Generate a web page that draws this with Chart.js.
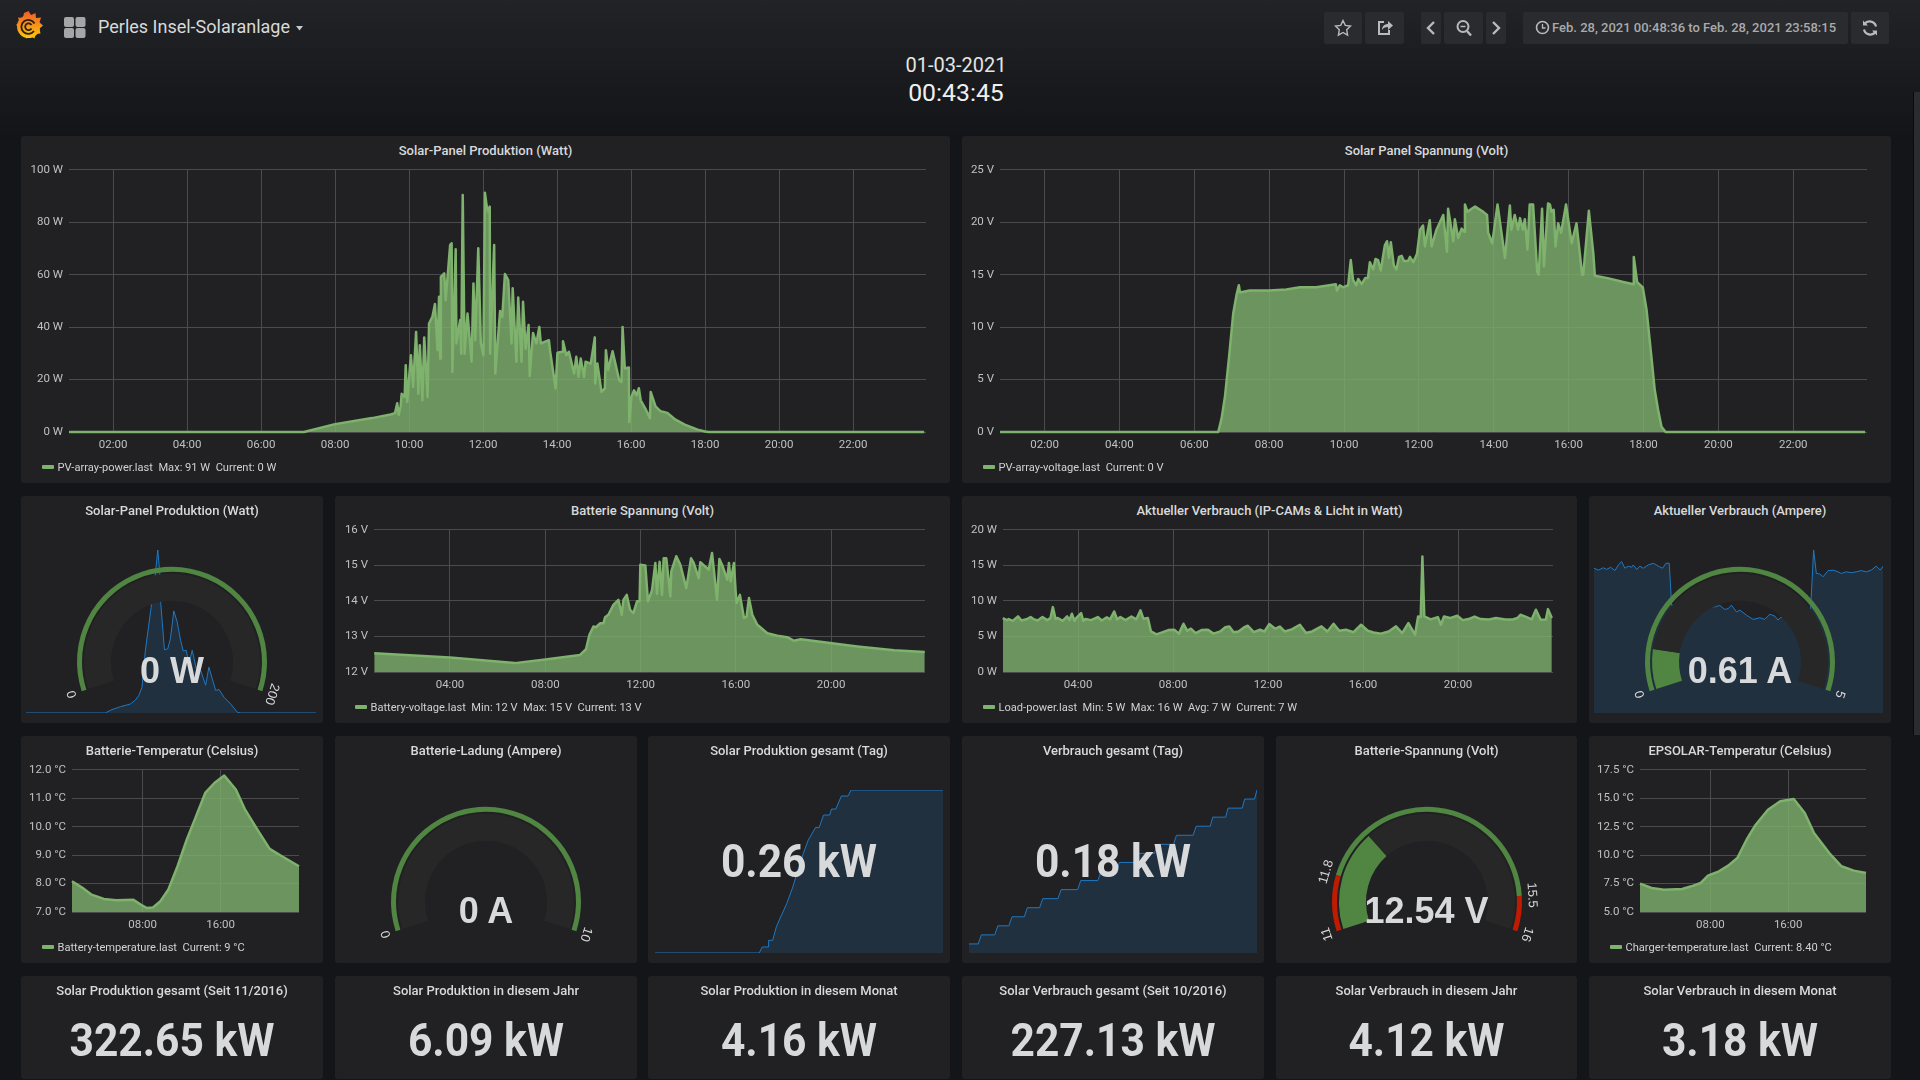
<!DOCTYPE html>
<html><head><meta charset="utf-8">
<script src="https://cdn.jsdelivr.net/npm/chart.js@4"></script>
<style>
html,body{margin:0;padding:0;width:1920px;height:1080px;overflow:hidden;background:#141518;font-family:Roboto,sans-serif;color:#d8d9da}
#bg{position:absolute;left:0;top:0;width:1920px;height:140px;background:linear-gradient(#222326,#131417)}
.panel{position:absolute;background:#212124;border-radius:3px}
.title{position:absolute;text-align:center;font-size:13px;font-weight:500;line-height:16px;color:#d8d9da;white-space:nowrap}
canvas{position:absolute;display:block}
.legend{position:absolute;font-size:11.1px;line-height:14px;color:#d0d1d2;white-space:pre}
.swatch{position:absolute;width:12px;height:4px;background:#7eb26d;border-radius:1px}
.big{position:absolute;text-align:center;font-weight:700;font-size:46px;line-height:50px;color:#d8d9da;white-space:nowrap;transform:scaleX(.925)}
.gv{position:absolute;text-align:center;font-family:"Liberation Sans",sans-serif;font-weight:700;font-size:36px;line-height:40px;color:#d8d9da;white-space:nowrap}
.btn{position:absolute;top:12px;height:32px;background:#2a2b2e;border-radius:2px;display:flex;align-items:center;justify-content:center}
.abs{position:absolute;white-space:nowrap}
</style></head><body>
<div id="bg"></div>
<svg class="abs" style="left:13px;top:10px" width="32" height="32" viewBox="0 0 32 32">
 <defs><linearGradient id="g" x1="0" y1="0" x2="0" y2="1"><stop offset="0" stop-color="#f05a28"/><stop offset="1" stop-color="#fbca0a"/></linearGradient></defs>
 <circle cx="15.5" cy="16.500" r="11.500" fill="url(#g)"/>
 <path d="M15.500 1l2.500 4 4.500-2 .5 5 5-.5-1.500 5 3.500 3-3.500 3 1 5-5 .5-1 4.500-4-2.500-4 2.500-1.500-4.500-5-.5 1.500-5L3 15l3.500-3-1.500-4.500 5 .5 1-5z" fill="url(#g)"/>
 <path d="M21.500 13.500a7 7 0 1 0-.5 7.500" fill="none" stroke="#2a1d12" stroke-width="1.800"/>
 <path d="M18.500 15a3.400 3.400 0 1 0 0 3.500" fill="none" stroke="#2a1d12" stroke-width="1.800"/>
</svg>
<svg class="abs" style="left:64px;top:17px" width="22" height="21" viewBox="0 0 22 21" fill="#a5a6a8">
 <rect x="0" y="0" width="10" height="10" rx="2"/><rect x="11.5" y="0" width="10" height="10" rx="2"/><rect x="0" y="11" width="10" height="10" rx="2"/><rect x="11.5" y="11" width="10" height="10" rx="2"/>
</svg>
<div class="abs" style="left:98px;top:16px;font-size:18px;line-height:22px;color:#d8d9da">Perles Insel-Solaranlage</div>
<svg class="abs" style="left:296px;top:26px" width="8" height="5"><path d="M0 0h7L3.500 4.500z" fill="#c8c9ca"/></svg>

<div class="btn" style="left:1324px;width:38px"><svg width="18" height="18" viewBox="0 0 18 18"><path d="M9 1.500l2.300 4.900 5.200.7-3.800 3.700.9 5.300L9 13.500l-4.600 2.600.9-5.300L1.500 7.100l5.200-.7z" fill="none" stroke="#b9babb" stroke-width="1.400"/></svg></div>
<div class="btn" style="left:1365px;width:39px"><svg width="18" height="18" viewBox="0 0 18 18"><path d="M8 3H3v12h10v-4" fill="none" stroke="#b9babb" stroke-width="2"/><path d="M6 11c0-4 3-6 6-6V2l5 4.500-5 4.500V8c-3 0-5 1-6 3z" fill="#b9babb"/></svg></div>
<div class="btn" style="left:1421px;width:20px"><svg width="12" height="16" viewBox="0 0 12 16"><path d="M9 2L3 8l6 6" fill="none" stroke="#b9babb" stroke-width="2.400"/></svg></div>
<div class="btn" style="left:1444px;width:39px"><svg width="18" height="18" viewBox="0 0 18 18"><circle cx="8" cy="7.500" r="5.500" fill="none" stroke="#b9babb" stroke-width="2"/><path d="M12 12l4 4.500" stroke="#b9babb" stroke-width="2.400"/><path d="M5.500 7.500h5" stroke="#b9babb" stroke-width="1.500"/></svg></div>
<div class="btn" style="left:1486px;width:20px"><svg width="12" height="16" viewBox="0 0 12 16"><path d="M3 2l6 6-6 6" fill="none" stroke="#b9babb" stroke-width="2.400"/></svg></div>
<div class="btn" style="left:1523px;width:325px"></div>
<svg class="abs" style="left:1535px;top:20px" width="15" height="15" viewBox="0 0 15 15"><circle cx="7.500" cy="7.500" r="6" fill="none" stroke="#b9babb" stroke-width="1.600"/><path d="M7.500 4v4h3" fill="none" stroke="#b9babb" stroke-width="1.300"/></svg>
<div class="abs" style="left:1552px;top:20px;font-size:13px;font-weight:500;line-height:16px;color:#a9aaab">Feb. 28, 2021 00:48:36 to Feb. 28, 2021 23:58:15</div>
<div class="btn" style="left:1851px;width:38px"><svg width="18" height="18" viewBox="0 0 18 18"><path d="M15 7.500A6.500 6.500 0 0 0 3.500 5" fill="none" stroke="#b9babb" stroke-width="2.200"/><path d="M3 10.500A6.500 6.500 0 0 0 14.500 13" fill="none" stroke="#b9babb" stroke-width="2.200"/><path d="M2 1.500v5h5zM16 16.500v-5h-5z" fill="#b9babb"/></svg></div>

<div class="abs" style="left:756px;width:400px;text-align:center;top:53px;font-size:20px;line-height:24px;color:#e4e5e6">01-03-2021</div>
<div class="abs" style="left:756px;width:400px;text-align:center;top:78px;font-size:24.8px;line-height:30px;color:#f0f0f0">00:43:45</div>
<div class="abs" style="left:1913px;top:92px;width:6px;height:643px;background:#2a2c30;border-left:1px solid #08090a"></div>
<div id="root"></div>
<script>
// ---- axis labels ----
const hourTicksWide = [2,4,6,8,10,12,14,16,18,20,22];
const hourTicksMid = [4,8,12,16,20];
const hourTicksNarrow = [8,16];
const wattTicksPanel = [0,20,40,60,80,100];
const voltTicksPanel = [0,5,10,15,20,25];
const voltTicksBattery = [12,13,14,15,16];
const wattTicksLoad = [0,5,10,15,20];
const tempTicksBattery = [7,8,9,10,11,12];
const tempTicksCharger = [5,7.5,10,12.5,15,17.5];

// ---- series: [hour of day, value] ----
const pvPower = [[0.81,0],[7.16,0],[8,3],[9,5.3],[9.5,6.7],[9.62,7.2],[9.68,11],[9.72,6.5],[9.77,9.6],[9.8,14.6],[9.88,13.4],[9.91,25.5],[9.95,11.5],[10.05,29.3],[10.11,17.2],[10.19,38.2],[10.25,14.6],[10.29,33.1],[10.36,12.1],[10.41,36.1],[10.5,13.4],[10.54,41.4],[10.63,43.9],[10.7,48.8],[10.77,31.2],[10.81,51.6],[10.84,28],[10.86,59.2],[10.95,60.5],[10.99,50.3],[11.11,71.3],[11.15,72],[11.17,22.9],[11.26,69.7],[11.28,33.8],[11.38,42.7],[11.41,29.9],[11.45,90.4],[11.5,29.9],[11.58,45.2],[11.69,26.8],[11.74,56.7],[11.79,35],[11.87,70.1],[11.94,33.8],[12.01,29.3],[12.05,91.3],[12.1,86],[12.14,84.1],[12.18,86],[12.19,29.9],[12.3,71.3],[12.33,22.3],[12.46,46.2],[12.52,43.9],[12.59,60.3],[12.68,58],[12.77,33.8],[12.8,54.8],[12.9,26.8],[12.95,51.3],[13.04,26.8],[13.08,49.7],[13.15,31.8],[13.23,40.8],[13.26,21.3],[13.35,37.8],[13.44,33.8],[13.52,40.1],[13.56,33.8],[13.78,35],[13.81,31],[13.96,16.6],[14.01,30.2],[14.14,30.6],[14.16,34.6],[14.25,29.3],[14.32,30.6],[14.46,22.3],[14.52,28.7],[14.58,21],[14.64,28],[14.73,21],[14.77,26.8],[14.91,26.1],[15.02,36.1],[15.03,18.5],[15.09,26.1],[15.2,15.3],[15.29,16.6],[15.32,31.2],[15.38,23.6],[15.5,30.8],[15.68,19.7],[15.74,19.1],[15.77,40.1],[15.83,24.2],[15.94,24.6],[15.95,3.8],[16.01,13.4],[16.08,15.9],[16.15,14],[16.21,16.7],[16.26,12.1],[16.4,8.5],[16.51,5.3],[16.53,15.3],[16.66,9.8],[16.8,7.9],[16.98,7.3],[17.2,4.7],[17.45,2.8],[17.8,0.9],[18,0.2],[18.1,0],[23.92,0]];

const pvVoltage = [[0.81,0],[6.64,0],[6.73,1.3],[6.82,3.4],[6.93,7.2],[7.04,11.3],[7.13,13.1],[7.19,14],[7.22,13.3],[7.48,13.5],[8,13.5],[8.46,13.6],[8.82,13.8],[9.26,13.8],[9.78,14.1],[9.81,13.5],[9.89,14],[9.97,13.8],[10.11,14],[10.18,16.4],[10.24,14.5],[10.33,14],[10.38,14.6],[10.47,14.1],[10.57,14.7],[10.64,14.7],[10.69,16.2],[10.78,15.5],[10.84,16.5],[10.91,16.4],[10.98,15.4],[11.09,17.8],[11.15,18.2],[11.2,16.6],[11.25,18.1],[11.33,15.9],[11.4,15.5],[11.47,16.7],[11.54,16.8],[11.6,16.3],[11.71,16.3],[11.76,16.7],[11.85,16.2],[11.95,17],[12.03,19.3],[12.11,19.7],[12.16,17.7],[12.29,20.2],[12.34,17.7],[12.47,19.3],[12.65,20.7],[12.75,17.2],[12.78,21.3],[12.92,18.2],[12.96,20.3],[13.05,18.5],[13.14,19.4],[13.21,19.1],[13.23,21.7],[13.3,21],[13.41,21.3],[13.5,21.5],[13.72,21],[13.82,20.7],[13.85,19],[13.96,18],[14.1,21.7],[14.3,16.6],[14.43,21.6],[14.47,19.3],[14.56,20.7],[14.65,19.3],[14.7,20.4],[14.78,19.3],[14.83,20.3],[14.9,17.4],[14.96,21.7],[15.05,21.7],[15.16,15.3],[15.2,15],[15.29,21.3],[15.34,15.8],[15.45,21.8],[15.5,21.7],[15.54,21],[15.6,21.2],[15.65,17.7],[15.72,19.9],[15.8,19],[15.93,21.7],[16.08,18],[16.21,19.9],[16.36,15],[16.39,15],[16.54,21.1],[16.66,17],[16.7,14.9],[17.01,14.7],[17.46,14.3],[17.73,14.1],[17.74,16.7],[17.83,14.3],[17.98,13.8],[18.08,11.7],[18.21,7.2],[18.3,4],[18.39,2.1],[18.48,0.5],[18.59,0],[23.92,0]];

const batteryVoltage = [[0.82,12.53],[4,12.41],[6.72,12.25],[8,12.35],[9.46,12.48],[9.71,12.64],[9.85,13.04],[10.02,13.28],[10.13,13.26],[10.3,13.37],[10.44,13.37],[10.51,13.54],[10.65,13.61],[10.86,13.89],[11.07,14.03],[11.21,13.61],[11.28,14.03],[11.42,14.17],[11.56,13.75],[11.7,13.66],[11.85,13.99],[11.96,13.99],[11.99,15.02],[12.2,15],[12.31,13.99],[12.48,14.3],[12.62,15.07],[12.69,14.2],[12.8,15.1],[12.9,14.17],[12.97,15.2],[13.08,15.2],[13.25,14.13],[13.29,14.83],[13.5,15.26],[13.67,15.02],[13.92,14.36],[14.12,15.2],[14.23,15.07],[14.44,14.64],[14.51,15.09],[14.86,14.88],[15,15.35],[15.21,14.03],[15.31,15.18],[15.42,15.02],[15.64,14.6],[15.71,15.07],[15.78,14.55],[15.92,15.07],[15.99,14.27],[16.03,13.94],[16.17,14.17],[16.34,13.52],[16.45,13.56],[16.55,14.08],[16.69,13.61],[16.9,13.33],[17.32,13.09],[17.74,13.02],[18.16,12.98],[18.44,12.88],[18.72,12.92],[21.1,12.72],[22.64,12.61],[23.93,12.56]];

const loadPower = [[0.83,7.59],[1,7.3],[1.08,7.45],[1.25,7.2],[1.47,7.82],[1.62,7.25],[1.86,7.45],[2,7.75],[2.12,7.45],[2.3,7.25],[2.5,7.73],[2.7,7.3],[2.84,7.59],[2.94,9.13],[3.05,7.5],[3.15,7.59],[3.35,7.2],[3.54,7.82],[3.64,7.3],[3.74,8.2],[3.85,7.2],[3.92,7.59],[4.13,8.29],[4.22,7.2],[4.31,7.45],[4.55,7.3],[4.83,7.73],[5,7.25],[5.21,7.68],[5.35,7.4],[5.52,8.52],[5.65,7.4],[5.78,7.73],[6,7.3],[6.25,7.82],[6.45,7.4],[6.63,8.67],[6.75,7.5],[6.94,7.59],[7.07,5.71],[7.3,5.3],[7.54,5.57],[7.8,5.9],[8.05,5.95],[8.25,5.4],[8.44,6.79],[8.6,5.8],[8.75,6.1],[8.95,5.48],[9.2,5.9],[9.47,5.95],[9.7,5.4],[9.99,5.71],[10.2,6.3],[10.37,6.42],[10.55,5.6],[10.76,5.71],[11,6.3],[11.15,6.51],[11.4,5.6],[11.66,5.95],[11.85,5.7],[12.05,6.74],[12.3,6.1],[12.5,6.4],[12.7,5.71],[13,6],[13.34,6.65],[13.6,5.5],[13.86,5.71],[14.25,6.42],[14.5,5.7],[14.76,6.79],[15,5.8],[15.28,5.95],[15.6,5.6],[15.92,6.65],[16.2,5.8],[16.44,5.57],[16.75,5.4],[17.08,5.71],[17.39,6.42],[17.65,5.48],[17.91,6.89],[18.19,5.25],[18.32,7.82],[18.43,7.73],[18.5,16.25],[18.58,7.82],[18.85,7.4],[19.15,7.73],[19.28,6.65],[19.41,7.82],[19.66,7.59],[19.97,7.92],[20.2,7.3],[20.44,7.45],[20.7,7.8],[20.95,7.45],[21.3,7.4],[21.6,7.6],[21.99,7.4],[22.3,7.4],[22.5,7.59],[22.63,8.06],[22.89,7.73],[23.1,7.4],[23.28,8.76],[23.48,7.35],[23.7,7.4],[23.79,8.85],[23.95,7.59]];

const batteryTemp = [[0.76,8.08],[1.83,7.85],[2.77,7.61],[4.03,7.46],[5.29,7.41],[7.06,7.43],[7.81,7.26],[8.44,7.14],[9.07,7.16],[9.83,7.38],[10.65,7.79],[11.59,8.61],[12.54,9.55],[13.35,10.25],[14.43,11.19],[15.37,11.54],[16.38,11.8],[17.57,11.31],[18.52,10.6],[19.78,9.9],[21.04,9.22],[22.3,8.96],[24.05,8.61]];

const chargerTemp = [[0.76,7.49],[1.95,7.11],[3.21,6.96],[5.1,7.02],[6.05,7.26],[6.99,7.55],[7.75,8.2],[8.88,8.58],[9.83,9.08],[10.77,9.75],[11.72,11.36],[12.66,12.68],[13.92,14],[15.18,14.74],[16.57,14.94],[17.7,13.71],[18.65,11.95],[20.22,10.19],[21.48,9.02],[22.74,8.64],[24,8.43]];

const sparkPanelWatt = [[0.81,0],[7.14,0],[7.67,1.9],[8.34,3.5],[9.14,5],[9.54,7.2],[9.81,9.7],[10.07,14.4],[10.34,35],[10.8,59],[11.14,78],[11.33,91],[11.49,78],[11.57,61],[11.86,35.3],[12.13,35.9],[12.34,41.5],[12.61,57],[12.88,50.8],[13.15,40.6],[13.36,34.6],[13.6,35],[13.81,27.5],[14.08,35],[14.43,23.9],[14.75,23.9],[15.15,15.5],[15.41,25.6],[15.95,12.6],[16.22,13.1],[16.62,8.8],[17.15,5],[17.68,0.4],[17.95,0],[23.96,0]];

const sparkLoadAmpere = [[0.81,0.611],[1.16,0.603],[1.56,0.613],[1.82,0.606],[2.14,0.615],[2.49,0.601],[2.76,0.625],[3.02,0.639],[3.29,0.611],[3.56,0.62],[3.82,0.615],[3.96,0.625],[4.23,0.606],[4.49,0.62],[4.76,0.611],[5.16,0.625],[5.56,0.632],[5.96,0.62],[6.31,0.611],[6.57,0.632],[6.84,0.632],[7.03,0.455],[8.49,0.451],[10.49,0.448],[10.89,0.454],[11.29,0.437],[11.56,0.441],[11.83,0.455],[12.23,0.427],[12.5,0.434],[13.03,0.413],[13.56,0.395],[14.1,0.402],[14.5,0.395],[14.9,0.417],[15.3,0.409],[15.56,0.392],[15.75,0.403],[16.5,0.409],[17.56,0.42],[18.17,0.441],[18.41,0.688],[18.63,0.589],[18.9,0.587],[19.17,0.575],[19.57,0.601],[19.97,0.603],[20.37,0.596],[20.63,0.589],[21.03,0.596],[21.43,0.592],[21.83,0.596],[22.23,0.601],[22.63,0.596],[23.03,0.603],[23.43,0.62],[23.75,0.603],[23.97,0.62]];

const sparkSolarDay = [[0.81,0],[9.19,0],[9.44,0.0096],[9.93,0.0096],[9.95,0.0202],[10.28,0.0202],[10.57,0.0416],[10.92,0.0575],[11.41,0.0789],[11.9,0.1055],[12.3,0.1321],[12.74,0.1588],[13.14,0.1801],[13.73,0.2003],[14.02,0.2003],[14.37,0.22],[14.86,0.22],[15.01,0.2296],[15.36,0.2296],[15.8,0.2504],[16.34,0.2504],[16.59,0.26],[23.98,0.26]];

const sparkLoadDay = [[0.81,0.01],[1.55,0.01],[1.8,0.02],[2.88,0.02],[3.13,0.03],[4.02,0.03],[4.27,0.04],[5.26,0.04],[5.5,0.05],[6.49,0.05],[6.74,0.06],[7.97,0.06],[8.22,0.07],[9.55,0.07],[9.8,0.08],[11.18,0.08],[11.43,0.09],[12.67,0.09],[12.91,0.1],[14.15,0.1],[14.4,0.11],[15.73,0.11],[15.97,0.12],[17.26,0.12],[17.5,0.13],[18.84,0.13],[19.09,0.14],[20.22,0.14],[20.42,0.15],[21.46,0.15],[21.65,0.16],[22.79,0.16],[22.99,0.17],[23.78,0.17],[23.98,0.18]];

// ---- singlestat numbers ----
const statTitles = ["Solar Produktion gesamt (Seit 11/2016)","Solar Produktion in diesem Jahr","Solar Produktion in diesem Monat","Solar Verbrauch gesamt (Seit 10/2016)","Solar Verbrauch in diesem Jahr","Solar Verbrauch in diesem Monat"];
const statValues = ["322.65 kW","6.09 kW","4.16 kW","227.13 kW","4.12 kW","3.18 kW"];

// ---- page helpers ----
const root = document.getElementById('root');
function el(cls, css, text){const d=document.createElement('div');d.className=cls;Object.assign(d.style,css);if(text!==undefined)d.textContent=text;root.appendChild(d);return d;}
function panel(x,y,w,h,title){
  el('panel',{left:x+'px',top:y+'px',width:w+'px',height:h+'px'});
  el('title',{left:x+'px',width:w+'px',top:(y+7)+'px'},title);
}
const COL=[[21,302],[335,302],[648,302],[962,302],[1276,301],[1589,302]];
const hhmm=v=>String(v).padStart(2,'0')+':00';

function addCanvas(x,y,w,h){
  const c=document.createElement('canvas');c.width=w;c.height=h;
  c.style.left=x+'px';c.style.top=y+'px';c.style.width=w+'px';c.style.height=h+'px';
  root.appendChild(c);return c.getContext('2d');
}
const TICK={color:'#bfc0c1',font:{family:'Roboto',size:11.5}};
const GRID={color:'#4b4b4d',lineWidth:1,tickLength:0};

function lineChart(o){
  const padL=70,padR=6,padT=10,padB=30;
  const W=o.r-o.l+padL+padR,H=o.b-o.t+padT+padB;
  const ctx=addCanvas(o.l-padL,o.t-padT,W,H);
  const chart=new Chart(ctx,{type:'line',
    data:{datasets:[{data:o.data.map(p=>({x:p[0],y:p[1]})),borderColor:'#7eb26d',backgroundColor:'rgba(126,178,109,0.8)',borderWidth:2.5,pointRadius:0,tension:0,fill:'start',borderJoinStyle:'round',clip:false}]},
    options:{responsive:false,maintainAspectRatio:false,animation:false,events:[],layout:{padding:{top:padT,right:padR,left:0,bottom:0}},
      plugins:{legend:{display:false},tooltip:{enabled:false},title:{display:false}},
      scales:{
        x:{type:'linear',min:o.xMin,max:o.xMax,afterFit:s=>{s.height=padB},
           afterBuildTicks:s=>{s.ticks=o.xTicks.map(v=>({value:v}))},
           grid:GRID,border:{display:false},
           ticks:{...TICK,autoSkip:false,maxRotation:0,padding:6,callback:v=>hhmm(v)}},
        y:{type:'linear',min:o.yTicks[0],max:o.yTicks[o.yTicks.length-1],afterFit:s=>{s.width=padL},
           afterBuildTicks:s=>{s.ticks=o.yTicks.map(v=>({value:v}))},
           grid:GRID,border:{display:false},
           ticks:{...TICK,padding:6,callback:o.yFmt}}
      }}});
  // line the plot area up with the requested rectangle
  let ca=chart.chartArea;
  const dw=Math.round((o.r-o.l)-(ca.right-ca.left)),dh=Math.round((o.b-o.t)-(ca.bottom-ca.top));
  if(dw||dh)chart.resize(W+dw,H+dh);
  ca=chart.chartArea;
  ctx.canvas.style.left=(o.l-ca.left)+'px';
  ctx.canvas.style.top=(o.t-ca.top)+'px';
  el('swatch',{left:o.lx+'px',top:(o.ly-2)+'px'});
  el('legend',{left:(o.lx+15.5)+'px',top:(o.ly-6)+'px'},o.legend);
}

function sparkline(x0,x1,yTop,yBottom,data,yMax){
  const ctx=addCanvas(x0,yTop,x1-x0,yBottom-yTop);
  new Chart(ctx,{type:'line',
    data:{datasets:[{data:data.map(p=>({x:p[0],y:p[1]})),borderColor:'#1f78c1',backgroundColor:'rgba(31,118,189,0.18)',borderWidth:1,pointRadius:0,tension:0,fill:'start'}]},
    options:{responsive:false,animation:false,events:[],layout:{padding:0},
      plugins:{legend:{display:false},tooltip:{enabled:false}},
      scales:{x:{type:'linear',display:false,min:data[0][0],max:data[data.length-1][0]},
              y:{type:'linear',display:false,min:0,max:yMax}}}});
}

const GAUGE_START=162, GAUGE_SPAN=216, GREEN='#508642', RED='#bf1b00', BAND='#272727';
const gaugeLabels={id:'gaugeLabels',afterDraw(chart,args,opts){
  const a=chart.getDatasetMeta(0).data[0],c=chart.ctx;
  c.save();c.fillStyle='#d8d9da';c.font='13px "Liberation Sans"';c.textAlign='center';c.textBaseline='middle';
  opts.ticks.forEach(v=>{
    const ang=(GAUGE_START+(v-opts.min)/(opts.max-opts.min)*GAUGE_SPAN)*Math.PI/180;
    c.save();c.translate(a.x+105*Math.cos(ang),a.y+105*Math.sin(ang));c.rotate(ang+Math.PI/2);
    c.fillText(String(v),0,0);c.restore();
  });
  c.restore();
}};
function thresholdTicks(min,th){const out=[];let s=min;th.slice(0,-1).forEach(t=>{s=+(s+t[0]).toFixed(2);out.push(s)});return out;}
function gauge(cx,cy,min,max,value,thresholds,unitText){
  const w=300,h=300,R=95;
  // Chart.js shifts a partial doughnut inside its box; keep the ring's centre on (cx,cy)
  const shift=R*(1-Math.sin(GAUGE_START*Math.PI/180))/2;
  const ctx=addCanvas(cx-w/2,cy-shift-h/2,w,h);
  new Chart(ctx,{type:'doughnut',plugins:[gaugeLabels],
    data:{datasets:[
      {data:thresholds.map(t=>t[0]),backgroundColor:thresholds.map(t=>t[1]),borderWidth:0,weight:5},
      {data:[1],backgroundColor:['rgba(0,0,0,0)'],borderWidth:0,weight:2},
      {data:[value-min,max-value],backgroundColor:[GREEN,BAND],borderWidth:0,weight:27}
    ]},
    options:{responsive:false,animation:false,events:[],rotation:GAUGE_START+90-360,circumference:GAUGE_SPAN,radius:R,cutout:'64.2%',
      layout:{padding:0},
      plugins:{legend:{display:false},tooltip:{enabled:false},
        gaugeLabels:{min,max,ticks:[min,...thresholdTicks(min,thresholds),max]}}}});
  el('gv',{left:(cx-150)+'px',width:'300px',top:(cy-11.5)+'px'},unitText);
}

// ---- row 1 ----
panel(21,136,929,347,'Solar-Panel Produktion (Watt)');
panel(962,136,929,347,'Solar Panel Spannung (Volt)');
lineChart({l:69,r:926,t:170,b:432,xMin:0.81,xMax:23.97,xTicks:hourTicksWide,yTicks:wattTicksPanel,yFmt:v=>v+' W',data:pvPower,lx:42,ly:467,legend:'PV-array-power.last  Max: 91 W  Current: 0 W'});
lineChart({l:1000,r:1867,t:170,b:432,xMin:0.81,xMax:23.97,xTicks:hourTicksWide,yTicks:voltTicksPanel,yFmt:v=>v+' V',data:pvVoltage,lx:983,ly:467,legend:'PV-array-voltage.last  Current: 0 V'});

// ---- row 2 ----
panel(21,496,302,227,'Solar-Panel Produktion (Watt)');
panel(335,496,615,227,'Batterie Spannung (Volt)');
panel(962,496,615,227,'Aktueller Verbrauch (IP-CAMs & Licht in Watt)');
panel(1589,496,302,227,'Aktueller Verbrauch (Ampere)');
sparkline(26,316,550,713,sparkPanelWatt,91);
gauge(172,662,0,200,0,[[200,GREEN]],'0 W');
lineChart({l:374,r:925,t:530,b:672,xMin:0.81,xMax:23.94,xTicks:hourTicksMid,yTicks:voltTicksBattery,yFmt:v=>v+' V',data:batteryVoltage,lx:355,ly:707,legend:'Battery-voltage.last  Min: 12 V  Max: 15 V  Current: 13 V'});
lineChart({l:1003,r:1553,t:530,b:672,xMin:0.84,xMax:24,xTicks:hourTicksMid,yTicks:wattTicksLoad,yFmt:v=>v+' W',data:loadPower,lx:983,ly:707,legend:'Load-power.last  Min: 5 W  Max: 16 W  Avg: 7 W  Current: 7 W'});
sparkline(1594,1883,550,713,sparkLoadAmpere,0.688);
gauge(1740,662,0,5,0.61,[[5,GREEN]],'0.61 A');

// ---- row 3 ----
panel(21,736,302,227,'Batterie-Temperatur (Celsius)');
panel(335,736,302,227,'Batterie-Ladung (Ampere)');
panel(648,736,302,227,'Solar Produktion gesamt (Tag)');
panel(962,736,302,227,'Verbrauch gesamt (Tag)');
panel(1276,736,301,227,'Batterie-Spannung (Volt)');
panel(1589,736,302,227,'EPSOLAR-Temperatur (Celsius)');
lineChart({l:72,r:299,t:770,b:912,xMin:0.76,xMax:24.05,xTicks:hourTicksNarrow,yTicks:tempTicksBattery,yFmt:v=>v.toFixed(1)+' °C',data:batteryTemp,lx:42,ly:947,legend:'Battery-temperature.last  Current: 9 °C'});
gauge(486,902,0,10,0,[[10,GREEN]],'0 A');
sparkline(655,943,790,953,sparkSolarDay,0.26);
el('big',{left:'648px',width:'302px',top:'836px'},'0.26 kW');
sparkline(969,1257,790,953,sparkLoadDay,0.18);
el('big',{left:'962px',width:'302px',top:'836px'},'0.18 kW');
gauge(1426.5,902,11,16,12.54,[[0.8,RED],[3.7,GREEN],[0.5,RED]],'12.54 V');
lineChart({l:1640,r:1866,t:770,b:912,xMin:0.76,xMax:24,xTicks:hourTicksNarrow,yTicks:tempTicksCharger,yFmt:v=>v.toFixed(1)+' °C',data:chargerTemp,lx:1610,ly:947,legend:'Charger-temperature.last  Current: 8.40 °C'});

// ---- row 4 ----
statTitles.forEach((t,i)=>{
  const [x,w]=COL[i];
  panel(x,976,w,103,t);
  el('big',{left:x+'px',width:w+'px',top:'1015px'},statValues[i]);
});
</script>
</body></html>
